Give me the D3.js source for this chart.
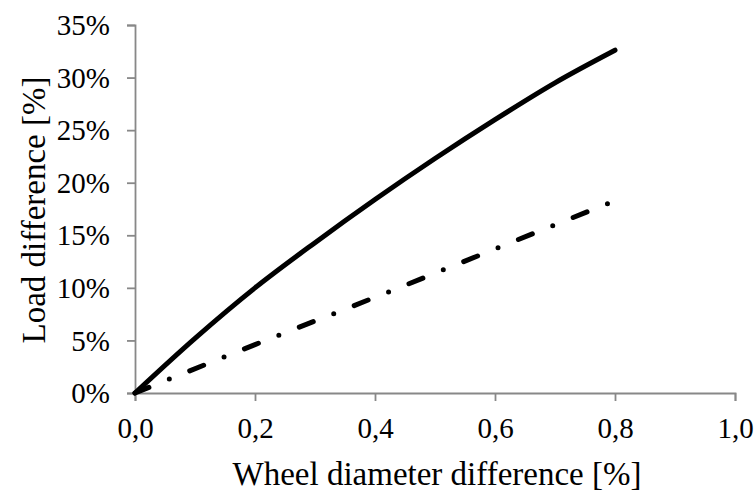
<!DOCTYPE html>
<html>
<head>
<meta charset="utf-8">
<script src="https://cdn.jsdelivr.net/npm/d3@7"></script>
<style>
  html, body { margin: 0; padding: 0; background: #fff; }
  #chart { width: 756px; height: 494px; }
  text { font-family: "Liberation Serif", "Times New Roman", serif; fill: #000; }
</style>
</head>
<body>
<div id="chart"></div>
<script>
// wheel diameter difference [%]
const diamSolid = [0, 0.1, 0.2, 0.3, 0.4, 0.5, 0.6, 0.7, 0.8];
// load difference [%] - solid curve
const loadSolid = [0, 5.2, 10.0, 14.3, 18.4, 22.3, 26.0, 29.5, 32.6];
// dash-dot curve
const diamDashDot = [0, 0.2, 0.4, 0.6, 0.8];
const loadDashDot = [0, 4.6, 9.1, 13.7, 18.3];

const xTicks = [0, 0.2, 0.4, 0.6, 0.8, 1.0];
const yTicks = [0, 5, 10, 15, 20, 25, 30, 35];

const W = 756, H = 494;
const margin = {top: 25, right: 21, bottom: 101, left: 135};
const axisColor = "#888";

const svg = d3.select("#chart").append("svg")
    .attr("width", W).attr("height", H)
    .attr("viewBox", [0, 0, W, H]);

const x = d3.scaleLinear().domain([0, 1]).range([margin.left, W - margin.right]);
const y = d3.scaleLinear().domain([0, 35]).range([H - margin.bottom, margin.top]);

// axes
const gx = svg.append("g")
    .attr("transform", `translate(0,${H - margin.bottom})`)
    .call(d3.axisBottom(x).tickValues(xTicks).tickSize(8).tickPadding(16.5)
        .tickFormat(d => d.toFixed(1).replace(".", ",")));

const gy = svg.append("g")
    .attr("transform", `translate(${margin.left},0)`)
    .call(d3.axisLeft(y).tickValues(yTicks).tickSize(8).tickPadding(17)
        .tickFormat(d => d + "%"));

[gx, gy].forEach(g => {
    g.attr("font-family", null).attr("font-size", 29);
    g.select(".domain").attr("stroke", axisColor).attr("stroke-width", 1.8);
    g.selectAll(".tick line").attr("stroke", axisColor).attr("stroke-width", 1.8);
    g.selectAll(".tick text").attr("fill", "#000");
});
gy.selectAll(".tick text").attr("dy", "0.33em");

// lines
const line = d3.line().x(d => x(d[0])).y(d => y(d[1])).curve(d3.curveMonotoneX);

svg.append("path")
    .datum(diamDashDot.map((d, i) => [d, loadDashDot[i]]))
    .attr("d", line)
    .attr("fill", "none")
    .attr("stroke", "#000")
    .attr("stroke-width", 5)
    .attr("stroke-linecap", "round")
    .attr("stroke-dasharray", "15,22,0,22");

svg.append("path")
    .datum(diamSolid.map((d, i) => [d, loadSolid[i]]))
    .attr("d", line)
    .attr("fill", "none")
    .attr("stroke", "#000")
    .attr("stroke-width", 5)
    .attr("stroke-linecap", "round");

// axis titles
svg.append("text")
    .attr("x", 437).attr("y", 485)
    .attr("text-anchor", "middle")
    .attr("font-size", 33)
    .text("Wheel diameter difference [%]");

svg.append("text")
    .attr("transform", "translate(45,210) rotate(-90)")
    .attr("text-anchor", "middle")
    .attr("font-size", 33)
    .text("Load difference [%]");
</script>
</body>
</html>
